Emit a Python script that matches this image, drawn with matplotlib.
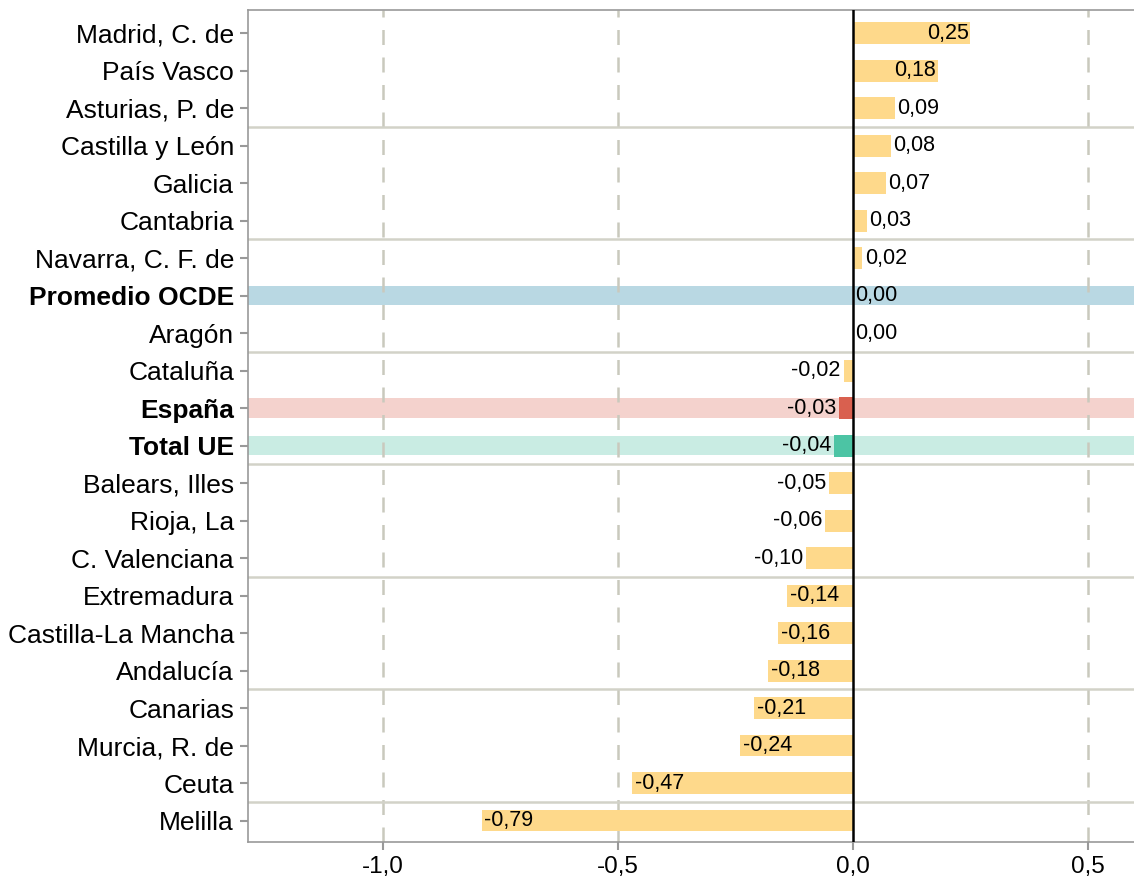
import matplotlib
matplotlib.use("Agg")
import matplotlib.pyplot as plt

regions = ["Madrid, C. de", "País Vasco", "Asturias, P. de", "Castilla y León", "Galicia",
           "Cantabria", "Navarra, C. F. de", "Promedio OCDE", "Aragón", "Cataluña", "España",
           "Total UE", "Balears, Illes", "Rioja, La", "C. Valenciana", "Extremadura",
           "Castilla-La Mancha", "Andalucía", "Canarias", "Murcia, R. de", "Ceuta", "Melilla"]
values = [0.25, 0.18, 0.09, 0.08, 0.07, 0.03, 0.02, 0.00, 0.00, -0.02, -0.03, -0.04,
          -0.05, -0.06, -0.10, -0.14, -0.16, -0.18, -0.21, -0.24, -0.47, -0.79]
xticks = [-1.0, -0.5, 0.0, 0.5]
xtick_labels = ["-1,0", "-0,5", "0,0", "0,5"]

highlight = {"Promedio OCDE": ("#b9d8e3", None),
             "España": ("#f4d2cd", "#d9604f"),
             "Total UE": ("#c9ece3", "#4cc4a4")}
bar_color = "#fed98b"

plt.rcParams['font.family'] = ['Liberation Sans', 'DejaVu Sans']

fig = plt.figure(figsize=(11.34, 8.81), dpi=100)
ax = fig.add_axes([0.2187, 0.0443, 0.7813, 0.9443])

n = len(regions)
ypos = list(range(n))
xmin, xmax = -1.287, 0.598

# highlight bands
for i, r in enumerate(regions):
    if r in highlight:
        ax.axhspan(i - 0.26, i + 0.26, color=highlight[r][0], zorder=0.5, lw=0)

# grid
for xt in [-1.0, -0.5, 0.5]:
    ax.axvline(xt, color="#c9c9bd", lw=1.8, ls=(0, (6, 5)), zorder=0.8)

# separators
for k in range(3, n, 3):
    ax.axhline(k - 0.5, color="#d2d2c8", lw=1.8, zorder=0.9)

colors = []
for r in regions:
    if r in highlight and highlight[r][1]:
        colors.append(highlight[r][1])
    else:
        colors.append(bar_color)
ax.barh(ypos, values, height=0.58, color=colors, zorder=2, lw=0)

ax.axvline(0, color="black", lw=1.8, zorder=3)

fs_val = 15.5
for i, v in enumerate(values):
    lab = f"{v:.2f}".replace(".", ",")
    if v > 0.12:
        ax.text(v - 0.004, i, lab, ha="right", va="center", fontsize=fs_val, zorder=4)
    elif v >= 0:
        ax.text(v + 0.005, i, lab, ha="left", va="center", fontsize=fs_val, zorder=4)
    elif v < -0.12:
        ax.text(v + 0.006, i, lab, ha="left", va="center", fontsize=fs_val, zorder=4)
    else:
        ax.text(v - 0.006, i, lab, ha="right", va="center", fontsize=fs_val, zorder=4)

ax.set_xlim(xmin, xmax)
ax.set_ylim(n - 1 + 0.57, -0.62)
ax.set_yticks(ypos)
ax.set_yticklabels(regions, fontsize=19)
for tl in ax.get_yticklabels():
    if tl.get_text() in highlight:
        tl.set_fontweight("bold")
ax.set_xticks(xticks)
ax.set_xticklabels(xtick_labels, fontsize=17.5)

ax.tick_params(axis="both", color="#999999", length=6, width=1.5, pad=4)
for s in ["left", "bottom", "top"]:
    ax.spines[s].set_color("#999999")
    ax.spines[s].set_linewidth(1.2)
ax.spines["right"].set_visible(False)

fig.savefig("out.png", dpi=100)
